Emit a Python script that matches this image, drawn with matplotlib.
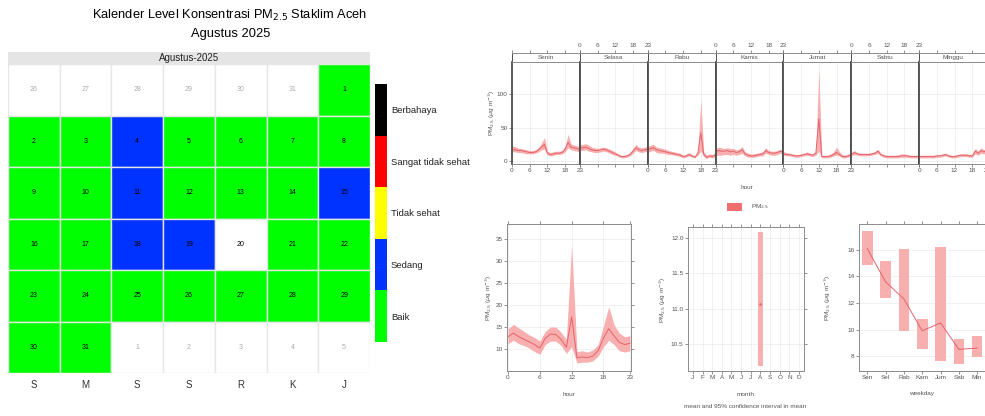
import datetime as dt

import matplotlib.pyplot as plt
import numpy as np
from matplotlib.patches import Rectangle

plt.rcParams['font.family'] = ['Liberation Sans', 'DejaVu Sans']

W, H = 985, 416

# ---- calendar data (Agustus 2025) ----
YEAR, MONTH = 2025, 8
WEEK_LETTERS = ["S", "M", "S", "S", "R", "K", "J"]
# daily ISPU category, None = no data
daily_level = [
    "Baik", "Baik", "Baik", "Sedang", "Baik", "Baik", "Baik", "Baik",       # 1-8
    "Baik", "Baik", "Sedang", "Baik", "Baik", "Baik", "Sedang",             # 9-15
    "Baik", "Baik", "Sedang", "Sedang", None, "Baik", "Baik",               # 16-22
    "Baik", "Baik", "Baik", "Baik", "Baik", "Baik", "Baik",                 # 23-29
    "Baik", "Baik",                                                         # 30-31
]
LEVELS = ["Berbahaya", "Sangat tidak sehat", "Tidak sehat", "Sedang", "Baik"]
LEVEL_COLORS = {"Berbahaya": "#000000", "Sangat tidak sehat": "#FF0000",
                "Tidak sehat": "#FFFF00", "Sedang": "#0033FF", "Baik": "#00FF00"}

# ---- time variation data ----
DAY_NAMES = ["Senin", "Selasa", "Rabu", "Kamis", "Jumat", "Sabtu", "Minggu"]
top_mean = {
    "Senin":  [18, 17, 16, 16, 15, 14, 13, 13, 14, 17, 21, 25, 12, 10, 11, 12, 12, 13, 18, 28, 21, 20, 19, 17],
    "Selasa": [20, 20, 21, 19, 17, 16, 16, 17, 18, 17, 15, 13, 11, 9, 7, 7, 8, 10, 15, 20, 17, 16, 17, 18],
    "Rabu":   [17, 19, 20, 17, 16, 15, 14, 13, 12, 11, 10, 9, 7, 8, 10, 8, 6, 12, 42, 10, 6, 8, 7, 10],
    "Kamis":  [14, 16, 15, 15, 16, 14, 15, 13, 14, 17, 11, 9, 8, 8, 9, 10, 11, 16, 13, 12, 12, 13, 15, 13],
    "Jumat":  [11, 10, 10, 9, 8, 8, 9, 10, 11, 10, 9, 12, 63, 7, 7, 7, 8, 10, 13, 10, 7, 7, 8, 10],
    "Sabtu":  [10, 13, 11, 10, 10, 10, 10, 11, 12, 15, 10, 8, 7, 7, 7, 7, 7, 8, 8, 8, 7, 7, 7, 7],
    "Minggu": [7, 7, 7, 7, 7, 7, 8, 8, 9, 10, 8, 7, 7, 8, 9, 9, 9, 8, 8, 15, 12, 16, 14, 17],
}
top_lo = {
    "Senin":  [14, 14, 13, 13, 12, 11, 11, 11, 12, 14, 17, 18, 9, 8, 9, 10, 10, 11, 14, 20, 17, 16, 15, 14],
    "Selasa": [16, 16, 17, 15, 14, 13, 13, 14, 15, 14, 12, 10, 9, 7, 5, 5, 6, 8, 12, 16, 14, 13, 14, 15],
    "Rabu":   [13, 15, 16, 13, 12, 12, 11, 10, 10, 9, 8, 7, 5, 6, 8, 6, 5, 9, 15, 7, 4, 6, 5, 7],
    "Kamis":  [8, 9, 9, 10, 10, 9, 10, 9, 10, 12, 8, 6, 6, 6, 7, 8, 8, 12, 10, 9, 9, 10, 12, 10],
    "Jumat":  [9, 8, 8, 7, 6, 6, 7, 8, 9, 8, 7, 9, 15, 5, 5, 5, 6, 8, 9, 8, 5, 5, 6, 8],
    "Sabtu":  [8, 10, 9, 8, 8, 8, 8, 9, 10, 12, 8, 6, 5, 5, 5, 5, 5, 6, 6, 6, 5, 5, 5, 5],
    "Minggu": [5, 5, 5, 5, 5, 5, 6, 6, 7, 8, 6, 5, 5, 6, 7, 7, 7, 6, 6, 11, 9, 12, 11, 13],
}
top_hi = {
    "Senin":  [23, 22, 20, 19, 18, 17, 16, 16, 17, 20, 27, 35, 15, 13, 14, 15, 15, 16, 22, 40, 26, 24, 23, 21],
    "Selasa": [25, 25, 26, 24, 21, 20, 19, 20, 21, 20, 18, 16, 14, 11, 9, 9, 10, 13, 19, 25, 21, 20, 21, 22],
    "Rabu":   [22, 24, 25, 21, 20, 19, 18, 16, 15, 14, 13, 12, 9, 10, 13, 10, 8, 15, 92, 14, 9, 11, 10, 13],
    "Kamis":  [19, 21, 20, 19, 20, 19, 19, 17, 18, 22, 14, 12, 11, 11, 12, 13, 14, 20, 16, 15, 15, 16, 18, 16],
    "Jumat":  [14, 13, 12, 11, 10, 10, 11, 12, 14, 12, 11, 15, 137, 9, 9, 9, 11, 14, 21, 14, 10, 9, 11, 13],
    "Sabtu":  [12, 16, 13, 12, 12, 12, 12, 13, 14, 18, 12, 10, 9, 9, 9, 9, 10, 11, 11, 10, 9, 9, 9, 9],
    "Minggu": [9, 9, 9, 9, 9, 9, 10, 10, 11, 12, 10, 9, 9, 10, 11, 11, 11, 10, 10, 19, 15, 20, 17, 21],
}

hour_mean = [12.8, 13.6, 12.8, 12.2, 11.6, 11.0, 10.2, 12.4, 13.4, 13.3, 12.2, 10.4,
             17.3, 8.0, 8.2, 8.0, 8.4, 9.6, 12.5, 14.6, 13.0, 11.5, 11.0, 11.3]
hour_lo = [11.2, 12.0, 11.2, 10.8, 10.2, 9.4, 8.8, 11.0, 11.8, 11.8, 10.8, 9.0,
           10.5, 6.8, 7.0, 7.0, 7.3, 8.4, 10.5, 12.0, 11.0, 9.6, 9.3, 9.6]
hour_hi = [14.6, 15.6, 14.8, 14.0, 13.2, 12.6, 11.8, 14.0, 15.0, 15.0, 13.8, 12.2,
           33.6, 9.4, 9.6, 9.3, 9.8, 11.0, 15.2, 19.6, 15.5, 13.6, 12.8, 13.0]

MONTH_LABELS = ["J", "F", "M", "A", "M", "J", "J", "A", "S", "O", "N", "D"]
month_num = [8]
month_mean = [11.07]
month_lo = [10.2]
month_hi = [12.08]

WEEKDAY_LABELS = ["Sen", "Sel", "Rab", "Kam", "Jum", "Sab", "Min"]
wd_mean = [16.1, 13.6, 12.3, 9.9, 10.5, 8.5, 8.6]
wd_lo = [14.9, 12.4, 9.9, 8.5, 7.6, 7.4, 7.9]
wd_hi = [17.4, 15.2, 16.1, 10.8, 16.2, 9.3, 9.5]

BAND = "#F7AFAF"
LINE = "#E5636B"
TXT = "#555555"
GRID = "#EBEBEB"
FS = 4.6


def box(x0, y0, x1, y1):
    return [x0 / W, 1 - y1 / H, (x1 - x0) / W, (y1 - y0) / H]


def lattice(ax):
    for s in ax.spines.values():
        s.set_color("#8C8C8C")
        s.set_linewidth(0.7)
    ax.tick_params(length=2, width=0.5, color="#666666", labelsize=FS,
                   labelcolor=TXT, pad=1.2, top=True, right=True)


def ylab(x, y, fig):
    fig.text(x / W, 1 - y / H, r"PM$_{2.5}$ ($\mu$g m$^{-3}$)", rotation=90,
             ha="center", va="center", fontsize=FS, color=TXT)


fig = plt.figure(figsize=(W / 100, H / 100), dpi=100)

# ================= calendar =================
fig.text(230 / W, 1 - 15 / H, "Kalender Level Konsentrasi PM$_{2.5}$ Staklim Aceh",
         ha="center", va="center", fontsize=9.3)
fig.text(231 / W, 1 - 34 / H, "Agustus 2025", ha="center", va="center", fontsize=9.3)

hdr = fig.add_axes(box(8, 52, 370, 64))
hdr.set_facecolor("#E5E5E5")
hdr.set_xticks([])
hdr.set_yticks([])
for s in hdr.spines.values():
    s.set_visible(False)
hdr.text(0.5, 0.5, "Agustus-2025", ha="center", va="center", fontsize=7, color="#222222")

cal = fig.add_axes(box(8, 64, 370, 373))
cal.set_xlim(0, 7)
cal.set_ylim(6, 0)
cal.axis("off")

first = dt.date(YEAR, MONTH, 1)
offset = (first.weekday() + 2) % 7
start = first - dt.timedelta(days=offset)
for k in range(42):
    d = start + dt.timedelta(days=k)
    row, col = divmod(k, 7)
    if d.month == MONTH:
        lvl = daily_level[d.day - 1]
        fc = LEVEL_COLORS[lvl] if lvl else "white"
        tc = "black"
    else:
        fc, tc = "white", "#AAAAAA"
    cal.add_patch(Rectangle((col, row), 1, 1, facecolor=fc, edgecolor="#E6E6E6", lw=1))
    cal.text(col + 0.5, row + 0.5, str(d.day), ha="center", va="center", fontsize=5, color=tc)

for c, lab in enumerate(WEEK_LETTERS):
    fig.text((8 + 362 / 7 * (c + 0.5)) / W, 1 - 385 / H, lab, ha="center", va="center",
             fontsize=7, color="#333333")

leg = fig.add_axes(box(375, 84, 387, 342))
leg.set_xlim(0, 1)
leg.set_ylim(len(LEVELS), 0)
leg.axis("off")
for i, lvl in enumerate(LEVELS):
    leg.add_patch(Rectangle((0, i), 1, 1, facecolor=LEVEL_COLORS[lvl], lw=0))
    fig.text(391 / W, 1 - (84 + (i + 0.5) * 258 / 5 + 1) / H, lvl, ha="left", va="center",
             fontsize=6.8, color="#222222")

# ================= hour x weekday =================
x0, x1 = 512, 987
pw = (x1 - x0) / 7
hrs = np.arange(24)
for i, day in enumerate(DAY_NAMES):
    ax = fig.add_axes(box(x0 + i * pw, 62, x0 + (i + 1) * pw, 164))
    ax.fill_between(hrs, top_lo[day], top_hi[day], color=BAND, lw=0)
    ax.plot(hrs, top_mean[day], color=LINE, lw=0.7)
    ax.set_xlim(0, 23)
    ax.set_ylim(-4, 147)
    for v in [0, 6, 12, 18]:
        ax.axvline(v, color=GRID, lw=0.5, zorder=0)
    for v in [0, 50, 100]:
        ax.axhline(v, color=GRID, lw=0.5, zorder=0)
    lattice(ax)
    ax.tick_params(top=False, right=False)
    for s in ["left", "right"]:
        ax.spines[s].set_color("#4D4D4D")
        ax.spines[s].set_linewidth(1.3)
    ax.set_xticks([0, 6, 12, 18, 23])
    if i % 2 == 1:
        ax.set_xticklabels([])
    if i == 0:
        ax.set_yticks([0, 50, 100])
    else:
        ax.set_yticks([])

    st = fig.add_axes(box(x0 + i * pw, 52.5, x0 + (i + 1) * pw, 62))
    st.set_xlim(0, 23)
    st.set_ylim(0, 1)
    st.set_yticks([])
    st.set_xticks([0, 6, 12, 18, 23])
    st.xaxis.tick_top()
    lattice(st)
    st.tick_params(bottom=False, right=False, top=True)
    if i % 2 == 0:
        st.set_xticklabels([])
    st.spines["left"].set_color("#4D4D4D")
    st.spines["right"].set_color("#4D4D4D")
    st.text(11.5, 0.5, day, ha="center", va="center", fontsize=FS, color=TXT)

ylab(492, 113, fig)
fig.text(747 / W, 1 - 187 / H, "hour", ha="center", va="center", fontsize=FS, color=TXT)

fig.patches.append(Rectangle((727 / W, 1 - 211 / H), 15 / W, 8 / H, transform=fig.transFigure,
                             facecolor="#F07070", edgecolor="none"))
fig.text(751 / W, 1 - 207 / H, "PM$_{2.5}$", ha="left", va="center", fontsize=FS, color=TXT)

# ================= hour =================
ax = fig.add_axes(box(507, 224, 631, 371))
ax.fill_between(hrs, hour_lo, hour_hi, color=BAND, lw=0)
ax.plot(hrs, hour_mean, color=LINE, lw=0.7)
ax.set_xlim(-0.2, 23.2)
ax.set_ylim(5, 38.4)
ax.set_xticks([0, 6, 12, 18, 23])
ax.set_yticks([10, 15, 20, 25, 30, 35])
ax.grid(color=GRID, lw=0.5)
ax.set_axisbelow(True)
lattice(ax)
ylab(489, 298, fig)
fig.text(569 / W, 1 - 394 / H, "hour", ha="center", va="center", fontsize=FS, color=TXT)

# ================= month =================
ax = fig.add_axes(box(688, 227, 804, 371))
ax.bar(month_num, np.array(month_hi) - np.array(month_lo), bottom=month_lo, width=0.55,
       color=BAND, lw=0)
ax.plot(month_num, month_mean, color=LINE, marker="o", ms=0.8, lw=0)
ax.set_xlim(0.5, 12.5)
ax.set_ylim(10.125, 12.15)
ax.set_xticks(range(1, 13))
ax.set_xticklabels(MONTH_LABELS)
ax.set_yticks([10.5, 11.0, 11.5, 12.0])
ax.set_yticklabels(["10.5", "11.0", "11.5", "12.0"])
ax.grid(color=GRID, lw=0.5)
ax.set_axisbelow(True)
lattice(ax)
ylab(663, 300, fig)
fig.text(746 / W, 1 - 394 / H, "month", ha="center", va="center", fontsize=FS, color=TXT)
fig.text(745 / W, 1 - 406 / H, "mean and 95% confidence interval in mean", ha="center",
         va="center", fontsize=FS, color=TXT)

# ================= weekday =================
ax = fig.add_axes(box(859, 224, 990, 371))
xs = np.arange(1, 8)
ax.bar(xs, np.array(wd_hi) - np.array(wd_lo), bottom=wd_lo, width=0.58, color=BAND, lw=0)
ax.plot(xs, wd_mean, color=LINE, lw=0.7)
ax.set_xlim(0.55, 7.7)
ax.set_ylim(6.87, 17.96)
ax.set_xticks(xs)
ax.set_xticklabels(WEEKDAY_LABELS)
ax.set_yticks([8, 10, 12, 14, 16])
ax.grid(axis="y", color=GRID, lw=0.5)
ax.set_axisbelow(True)
lattice(ax)
ylab(828, 298, fig)
fig.text(922 / W, 1 - 394 / H, "weekday", ha="center", va="center", fontsize=FS, color=TXT)

fig.savefig("out.png", dpi=100)
